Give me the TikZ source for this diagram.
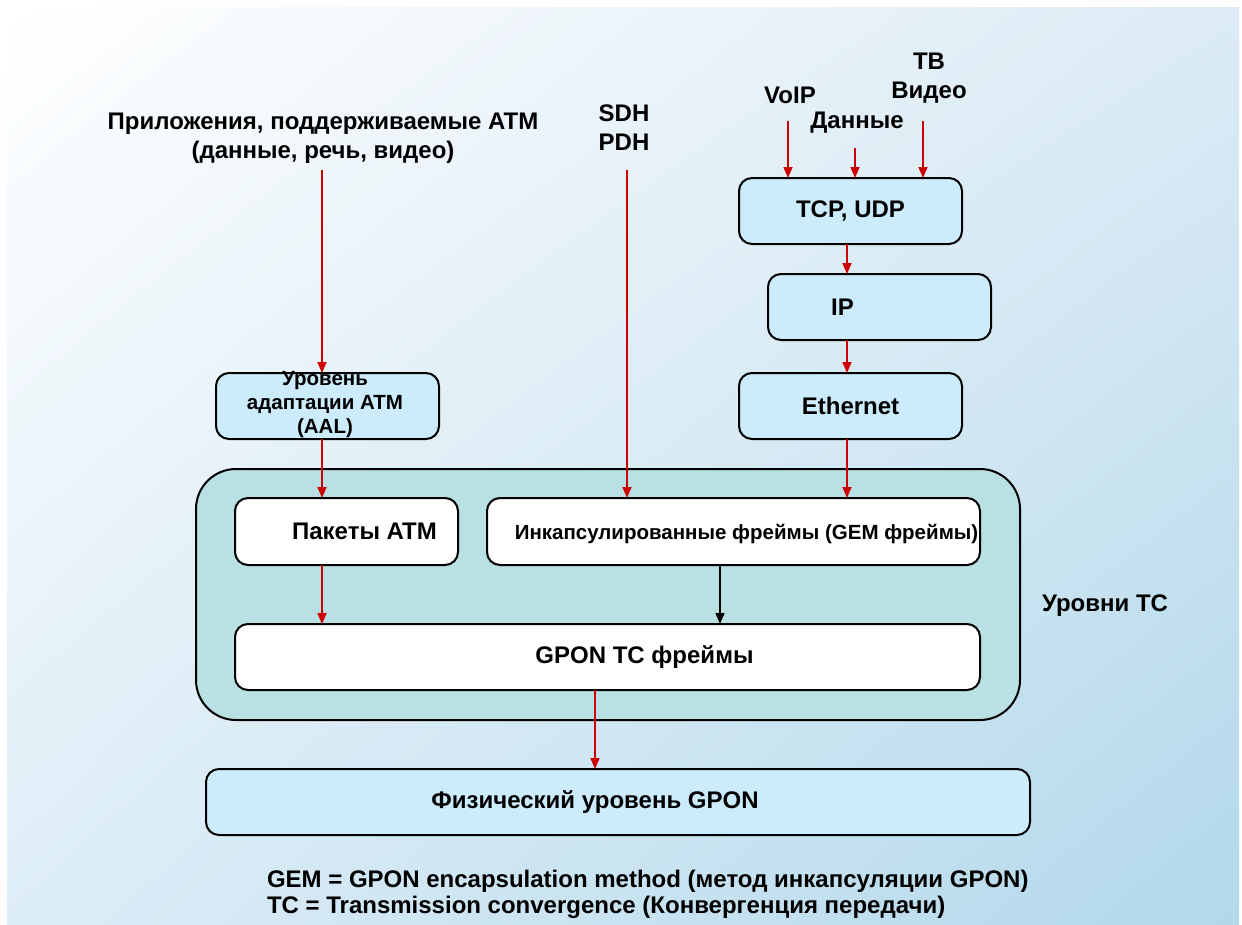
\documentclass[tikz,border=0pt]{standalone}
\usepackage{fontspec}
\setmainfont{Liberation Sans}
\usetikzlibrary{arrows.meta,shadings}
\definecolor{boxblue}{RGB}{204,236,252}
\definecolor{tcteal}{RGB}{185,224,226}
\definecolor{arrred}{RGB}{204,0,0}
\definecolor{bgtr}{RGB}{220,235,245}
\definecolor{bgbl}{RGB}{221,237,247}
\definecolor{bgbr}{RGB}{178,216,234}
\begin{document}
\begin{tikzpicture}[x=1pt,y=-1pt,
  every node/.style={font=\fontsize{24}{29}\selectfont\bfseries, inner sep=0pt, outer sep=0pt},
  box/.style={draw=black, line width=2pt, rounded corners=13pt, minimum width=223pt, minimum height=66pt},
  bluebox/.style={box, fill=boxblue},
  whitebox/.style={box, fill=white},
  arr/.style={draw=arrred, line width=1.5pt, -{Triangle[width=9pt,length=11pt]}},
  blk/.style={draw=black, line width=1.5pt, -{Triangle[width=9pt,length=11pt]}},
  lbl/.style={align=center}
]
\useasboundingbox (0,0) rectangle (1242,924);
\shade[upper left=white, upper right=bgtr, lower left=bgbl, lower right=bgbr] (7,7) rectangle (1239,924);

% top labels
\node[lbl] (app) at (323,138.5) {Приложения, поддерживаемые ATM\\(данные, речь, видео)};
\node[lbl] (sdh) at (624,127.5) {SDH\\PDH};
\node (voip) at (790,95) {VoIP};
\node (dannye) at (857,123) {Данные};
\node[lbl] (tv) at (929,78.5) {ТВ\\Видео};

% right stack
\node[bluebox] (tcp) at (850.5,211) {TCP, UDP};
\node[bluebox] (ip) at (879.5,307) {};
\node (iptext) at ([xshift=-37pt]ip.center) {IP};
\node[bluebox] (eth) at (850.5,406) {Ethernet};

% AAL
\node[bluebox] (aal) at (327.5,406) {};
\node[lbl, font=\fontsize{20.5}{24}\selectfont\bfseries] (aaltext) at (325,405) {Уровень\\адаптации ATM\\(AAL)};

% TC container
\node[draw=black, line width=2pt, fill=tcteal, rounded corners=40pt, minimum width=824pt, minimum height=251pt] (tc) at (608,594.5) {};
\node[whitebox, minimum width=223pt, minimum height=67pt] (atm) at (346.5,531.5) {};
\node (atmtext) at ([xshift=18pt]atm.center) {Пакеты ATM};
\node[whitebox, minimum width=493pt, minimum height=67pt] (gem) at (733.5,531.5) {};
\node[font=\fontsize{20.5}{24}\selectfont\bfseries] (gemtext) at ([xshift=13pt,yshift=-2pt]gem.center) {Инкапсулированные фреймы (GEM фреймы)};
\node[whitebox, minimum width=745pt, minimum height=66pt] (gpon) at (607.5,657) {};
\node (gpontext) at ([xshift=37pt]gpon.center) {GPON TC фреймы};
\node (tclabel) at (1105,606) {Уровни TC};

% physical
\node[bluebox, minimum width=824pt] (phy) at (618,802) {};
\node (phytext) at ([xshift=-23pt]phy.center) {Физический уровень GPON};

% footnote
\node[anchor=west, align=left, font=\fontsize{24}{26}\selectfont\bfseries] (foot) at (267,894) {GEM = GPON encapsulation method (метод инкапсуляции GPON)\\TC = Transmission convergence (Конвергенция передачи)};

% arrow free ends
\coordinate (append) at (322,170);
\coordinate (sdhend) at (627,170);
\coordinate (voipend) at (788,121);
\coordinate (dataend) at (855,148);
\coordinate (tvend) at (923,121);
\coordinate (cx) at (847,0);
\coordinate (gx) at (720,0);
\coordinate (px) at (595,0);

\draw[arr] (append) -- (append |- aal.north);
\draw[arr] (sdhend) -- (sdhend |- gem.north);
\draw[arr] (voipend) -- (voipend |- tcp.north);
\draw[arr] (dataend) -- (dataend |- tcp.north);
\draw[arr] (tvend) -- (tvend |- tcp.north);
\draw[arr] (tcp.south -| cx) -- (ip.north -| cx);
\draw[arr] (ip.south -| cx) -- (eth.north -| cx);
\draw[arr] (eth.south -| cx) -- (gem.north -| cx);
\draw[arr] (aal.south -| append) -- (atm.north -| append);
\draw[arr] (atm.south -| append) -- (gpon.north -| append);
\draw[blk] (gem.south -| gx) -- (gpon.north -| gx);
\draw[arr] (gpon.south -| px) -- (phy.north -| px);
\end{tikzpicture}
\end{document}
